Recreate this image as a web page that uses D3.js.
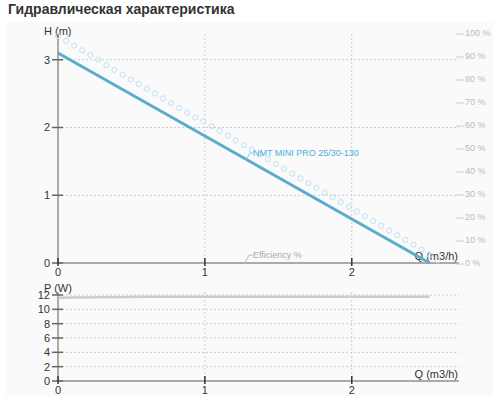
<!DOCTYPE html>
<html><head><meta charset="utf-8">
<script src="https://cdn.jsdelivr.net/npm/d3@7"></script>
<style>body{margin:0;background:#fff;font-family:"Liberation Sans",Arial,sans-serif}</style>
</head><body>
<svg id="c" width="500" height="400"></svg>
<script>
const title = 'Гидравлическая характеристика';
const headQ = [0, 2.53];
const headH = [3.1, 0];
const effQ = [0,.055,.11,.165,.22,.275,.33,.385,.44,.495,.55,.605,.66,.715,.77,.825,.88,.935,.99,1.045,1.1,1.155,1.21,1.265,1.32,1.375,1.43,1.485,1.54,1.595,1.65,1.705,1.76,1.815,1.87,1.925,1.98,2.035,2.09,2.145,2.2,2.255,2.31,2.365,2.42,2.475,2.53,2.585];
const effH = [3.35,3.28,3.21,3.14,3.07,3.00,2.92,2.85,2.78,2.71,2.64,2.57,2.50,2.43,2.36,2.29,2.22,2.15,2.09,2.02,1.95,1.88,1.81,1.74,1.67,1.60,1.53,1.46,1.39,1.32,1.25,1.18,1.11,1.04,0.97,0.90,0.83,0.76,0.69,0.62,0.55,0.48,0.41,0.34,0.27,0.20,0.12,0.04];
const powQ = [0, 0.1, 0.65, 2.53];
const powP = [11.6, 11.65, 11.75, 11.75];
const qTicks = [0, 1, 2];
const hTicks = [0, 1, 2, 3];
const pTicks = [0, 2, 4, 6, 8, 10, 12];
const pctTicks = [0, 10, 20, 30, 40, 50, 60, 70, 80, 90, 100];

const svg = d3.select('#c');
svg.append('rect').attr('x', 6).attr('y', 22).attr('width', 487).attr('height', 374).attr('fill', '#fafafa');
svg.append('text').attr('x', 8).attr('y', 14).attr('font-size', 14).attr('font-weight', 'bold')
  .attr('fill', '#333').text(title);

const x = d3.scaleLinear().domain([0, 2.73]).range([58, 459]);
const y = d3.scaleLinear().domain([0, 3.38]).range([263, 34]);
const yp = d3.scaleLinear().domain([0, 100]).range([263, 33]);
const yw = d3.scaleLinear().domain([0, 12]).range([381, 295]);

function grid(g, ys, yTicks, yTop, bottom) {
  g.selectAll('.gy').data(yTicks.filter(d => d > 0)).join('line')
    .attr('x1', 58).attr('x2', 459).attr('y1', d => ys(d)).attr('y2', d => ys(d))
    .attr('stroke', '#ccc').attr('stroke-dasharray', '2,2');
  g.selectAll('.gx').data(qTicks.filter(d => d > 0)).join('line')
    .attr('x1', d => x(d)).attr('x2', d => x(d)).attr('y1', yTop).attr('y2', bottom)
    .attr('stroke', '#ccc').attr('stroke-dasharray', '2,2');
  g.append('line').attr('x1', 58).attr('x2', 58).attr('y1', yTop).attr('y2', bottom).attr('stroke', '#aaa').attr('stroke-width', 2);
  g.append('line').attr('x1', 58).attr('x2', 459).attr('y1', bottom).attr('y2', bottom).attr('stroke', '#aaa').attr('stroke-width', 2);
  g.selectAll('.ty').data(yTicks).join('g').each(function(d) {
    const s = d3.select(this);
    s.append('line').attr('x1', 52).attr('x2', 63).attr('y1', ys(d)).attr('y2', ys(d)).attr('stroke', '#666').attr('stroke-width', 1.5);
    s.append('text').attr('x', 50).attr('y', ys(d) + 4).attr('text-anchor', 'end').attr('font-size', 11).attr('fill', '#333').text(d);
  });
  g.selectAll('.tx').data(qTicks).join('g').each(function(d) {
    const s = d3.select(this);
    s.append('line').attr('x1', x(d)).attr('x2', x(d)).attr('y1', bottom - 5).attr('y2', bottom + 3).attr('stroke', '#333').attr('stroke-width', 1.5);
    s.append('text').attr('x', x(d)).attr('y', bottom + 13).attr('text-anchor', 'middle').attr('font-size', 11).attr('fill', '#333').text(d);
  });
  g.append('text').attr('x', 458).attr('y', bottom - 3).attr('text-anchor', 'end').attr('font-size', 11).attr('fill', '#333').text('Q (m3/h)');
}

const gTop = svg.append('g');
grid(gTop, y, hTicks, 34, 263);
gTop.append('text').attr('x', 44).attr('y', 35).attr('font-size', 11).attr('fill', '#333').text('H (m)');
gTop.selectAll('.pct').data(pctTicks).join('g').each(function(d) {
  const s = d3.select(this);
  s.append('line').attr('x1', 456).attr('x2', 464).attr('y1', yp(d) + 1).attr('y2', yp(d) + 1).attr('stroke', '#ccc');
  s.append('text').attr('x', 465).attr('y', yp(d) + 3).attr('font-size', 9).attr('fill', '#bbb').text(d + ' %');
});
gTop.selectAll('circle').data(effQ).join('circle')
  .attr('cx', d => x(d)).attr('cy', (d, i) => y(effH[i])).attr('r', 2.6)
  .attr('fill', 'none').attr('stroke', '#bfe0f2').attr('stroke-width', 1);
gTop.append('path').datum(headQ.map((q, i) => [q, headH[i]]))
  .attr('d', d3.line().x(d => x(d[0])).y(d => y(d[1])))
  .attr('stroke', '#5aaccc').attr('stroke-width', 3).attr('fill', 'none');
gTop.append('path').attr('d', 'M246,160 L250,153 L253,153').attr('stroke', '#8cc8e4').attr('fill', 'none');
gTop.append('text').attr('x', 253).attr('y', 156).attr('font-size', 9).attr('fill', '#4ab0dc').text('NMT MINI PRO 25/30-130');
gTop.append('path').attr('d', 'M245,263 L249,255 L253,255').attr('stroke', '#bbb').attr('fill', 'none');
gTop.append('text').attr('x', 253).attr('y', 258).attr('font-size', 9).attr('fill', '#aaa').text('Efficiency %');

const gBot = svg.append('g');
grid(gBot, yw, pTicks, 292, 381);
gBot.append('text').attr('x', 44).attr('y', 292).attr('font-size', 11).attr('fill', '#333').text('P (W)');
gBot.append('path').datum(powQ.map((q, i) => [q, powP[i]]))
  .attr('d', d3.line().x(d => x(d[0])).y(d => yw(d[1])))
  .attr('stroke', '#ccc').attr('stroke-width', 2.5).attr('fill', 'none');
</script>
</body></html>
